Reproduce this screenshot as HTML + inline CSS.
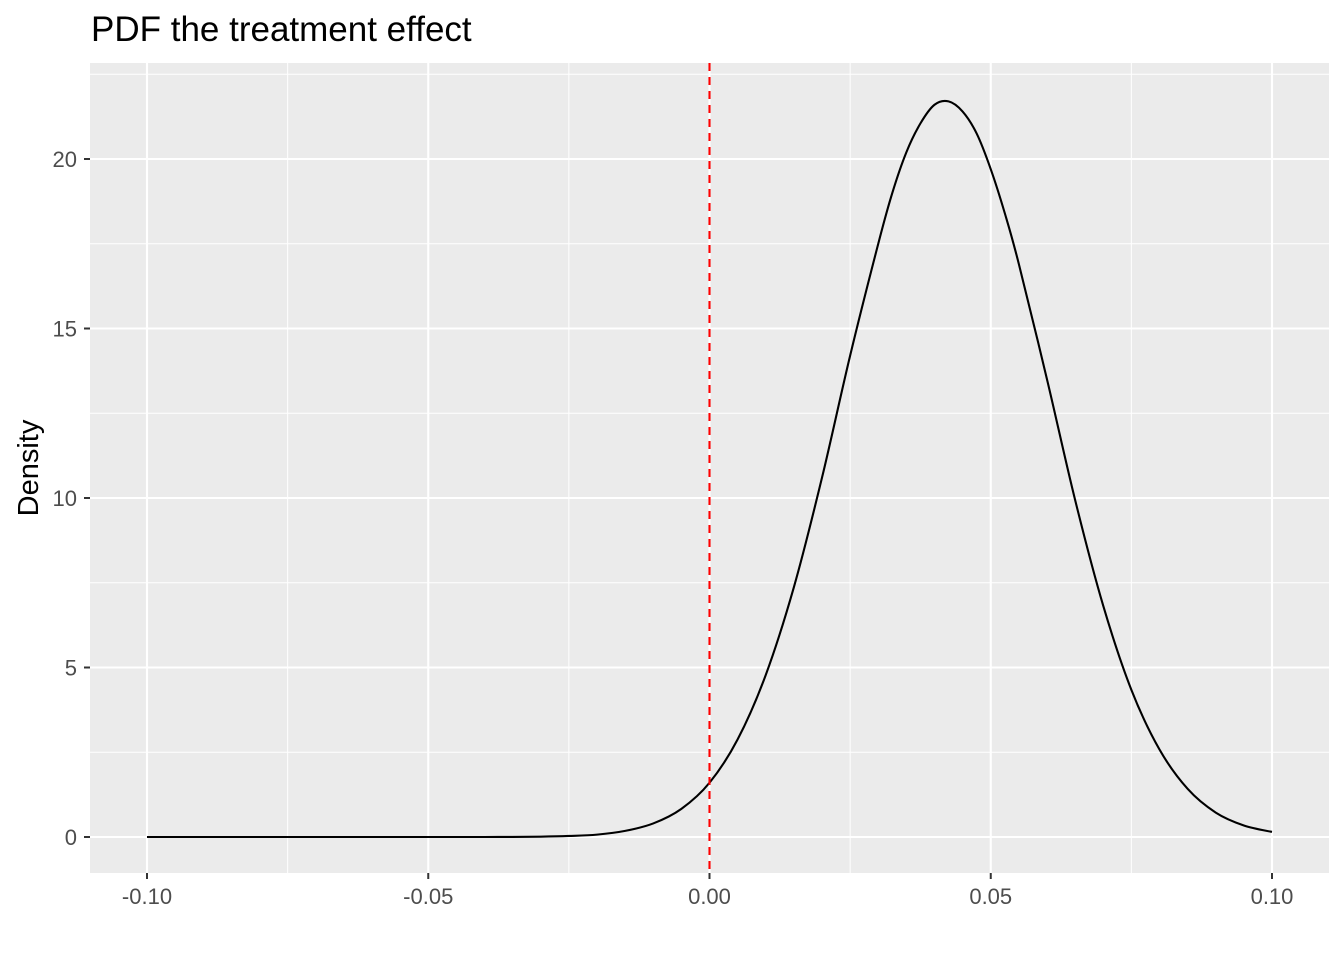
<!DOCTYPE html>
<html><head><meta charset="utf-8"><style>
html,body{margin:0;padding:0;background:#fff;}
svg{display:block;font-family:"Liberation Sans",sans-serif;}
</style></head><body>
<svg id="chart" width="1344" height="960"></svg>
<script>
const xs=[-0.1,-0.095,-0.09,-0.085,-0.08,-0.075,-0.07,-0.065,-0.06,-0.055,-0.05,-0.045,-0.04,-0.035,-0.03,-0.025,-0.02,-0.015,-0.01,-0.005,0,0.005,0.01,0.015,0.02,0.025,0.03,0.0325,0.035,0.0375,0.04,0.0425,0.045,0.0475,0.05,0.0525,0.055,0.06,0.065,0.07,0.075,0.08,0.085,0.09,0.095,0.1];
const ys=[0,0,0,0,0,0,0,0,0,0,0,0,0,0.003,0.01,0.03,0.07,0.18,0.40,0.83,1.6,2.88,4.78,7.37,10.6,14.2,17.5,19.0,20.2,21.05,21.6,21.7,21.4,20.75,19.7,18.4,16.9,13.5,9.94,6.82,4.34,2.58,1.42,0.72,0.34,0.15];
const xTicks=[-0.1,-0.05,0,0.05,0.1];
const xTickLabels=["-0.10","-0.05","0.00","0.05","0.10"];
const yTicks=[0,5,10,15,20];
const yTickLabels=["0","5","10","15","20"];
const vline=0;
const NS="http://www.w3.org/2000/svg";
const svg=document.getElementById('chart');
const L=90,R=1329,T=63,B=873;
const sx=v=>147+(v+0.1)/0.2*(1272-147);
const sy=v=>837-v*(837-159)/20;
function mk(tag,attrs,parent){const e=document.createElementNS(NS,tag);for(const k in attrs)e.setAttribute(k,attrs[k]);(parent||svg).appendChild(e);return e;}
const panel=mk('rect',{x:L,y:T,width:R-L,height:B-T,fill:'#ebebeb'});


for(let i=0;i<xTicks.length-1;i++){const m=(xTicks[i]+xTicks[i+1])/2;const g=mk('line',{x1:sx(m),x2:sx(m),y1:T,y2:B,stroke:'#fff','stroke-width':1});

}
for(let i=0;i<yTicks.length;i++){const m=yTicks[i]+2.5;const g=mk('line',{x1:L,x2:R,y1:sy(m),y2:sy(m),stroke:'#fff','stroke-width':1});

}
xTicks.forEach((v,i)=>{const g=mk('line',{x1:sx(v),x2:sx(v),y1:T,y2:B,stroke:'#fff','stroke-width':2.1});


const t=mk('line',{x1:sx(v),x2:sx(v),y1:B,y2:B+6,stroke:'#333','stroke-width':2});


const lb=mk('text',{x:sx(v),y:904,'text-anchor':'middle','font-size':'22px',fill:'#4d4d4d'});lb.textContent=xTickLabels[i];

});
yTicks.forEach((v,i)=>{const g=mk('line',{x1:L,x2:R,y1:sy(v),y2:sy(v),stroke:'#fff','stroke-width':2.1});


const t=mk('line',{x1:L-6,x2:L,y1:sy(v),y2:sy(v),stroke:'#333','stroke-width':2});


const lb=mk('text',{x:77,y:sy(v)+8,'text-anchor':'end','font-size':'22px',fill:'#4d4d4d'});lb.textContent=yTickLabels[i];

});
const P=xs.map((x,i)=>[sx(x),sy(ys[i])]);
let d='M'+P[0][0].toFixed(2)+','+P[0][1].toFixed(2);
for(let i=0;i<P.length-1;i++){const p0=P[Math.max(0,i-1)],p1=P[i],p2=P[i+1],p3=P[Math.min(P.length-1,i+2)];
const c1=[p1[0]+(p2[0]-p0[0])/6,p1[1]+(p2[1]-p0[1])/6],c2=[p2[0]-(p3[0]-p1[0])/6,p2[1]-(p3[1]-p1[1])/6];
d+=' C'+c1.map(v=>v.toFixed(2)).join(',')+' '+c2.map(v=>v.toFixed(2)).join(',')+' '+p2.map(v=>v.toFixed(2)).join(',');}
const path=mk('path',{d:d,fill:'none',stroke:'#000','stroke-width':2.1,'stroke-linejoin':'round'});


const vl=mk('line',{x1:sx(vline),x2:sx(vline),y1:T,y2:B,stroke:'#ff0000','stroke-width':2.1,'stroke-dasharray':'8,6'});


const yt=mk('text',{x:0,y:0,transform:'translate(38,468) rotate(-90)','text-anchor':'middle','font-size':'29px',fill:'#000'});yt.textContent='Density';


const tt=mk('text',{x:91,y:41,'font-size':'35px',fill:'#000'});tt.textContent='PDF the treatment effect';


</script>
</body></html>
